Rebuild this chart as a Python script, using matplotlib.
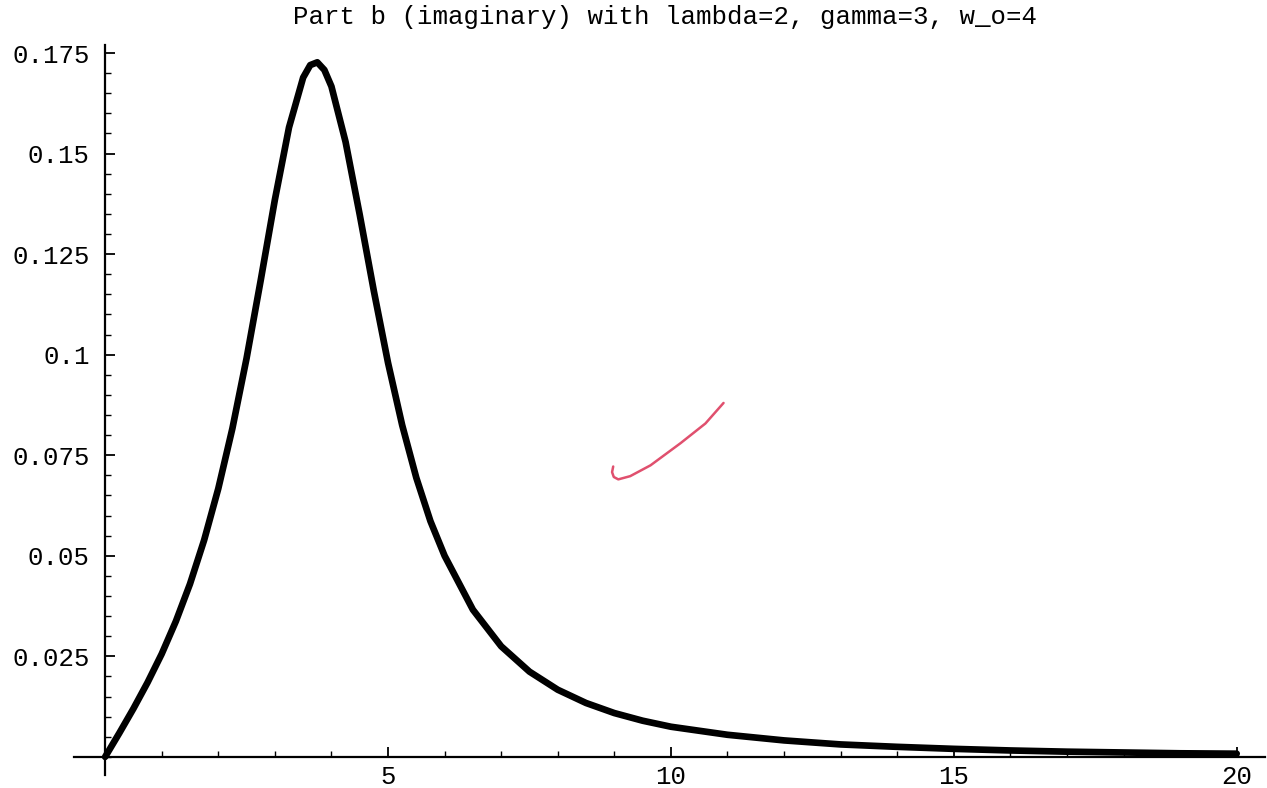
import numpy as np
import matplotlib
matplotlib.use("Agg")
import matplotlib.pyplot as plt
from matplotlib.ticker import FixedLocator, MultipleLocator

# curve (frequency vs. imaginary part)
w = [0, 0.25, 0.5, 0.75, 1, 1.25, 1.5, 1.75, 2, 2.25, 2.5, 2.75, 3, 3.25,
     3.5, 3.625, 3.75, 3.875, 4, 4.25, 4.5, 4.75, 5, 5.25, 5.5, 5.75, 6,
     6.5, 7, 7.5, 8, 8.5, 9, 9.5, 10, 11, 12, 13, 14, 15, 16, 17, 18, 19, 20]
im_part = [0.0, 0.0059, 0.0120, 0.0185, 0.0256, 0.0337, 0.0430, 0.0539,
           0.0667, 0.0817, 0.0991, 0.1185, 0.1385, 0.1565, 0.1689, 0.1720,
           0.1727, 0.1708, 0.1667, 0.1529, 0.1348, 0.1158, 0.0980, 0.0825,
           0.0694, 0.0586, 0.0500, 0.0366, 0.0275, 0.0212, 0.0167, 0.0134,
           0.0109, 0.0090, 0.0075, 0.0055, 0.0041, 0.0031, 0.0025, 0.0020,
           0.0016, 0.0013, 0.0011, 0.0009, 0.0008]

# red pen stroke on the scan
pen_x = [8.98, 8.96, 8.99, 9.07, 9.28, 9.64, 10.17, 10.61, 10.93]
pen_y = [0.0722, 0.0708, 0.0696, 0.0690, 0.0698, 0.0725, 0.0780, 0.0829, 0.0880]

xticks = [5, 10, 15, 20]
yticks = [0.025, 0.05, 0.075, 0.1, 0.125, 0.15, 0.175]
ytick_labels = ["0.025", "0.05", "0.075", "0.1", "0.125", "0.15", "0.175"]

plt.rcParams['font.family'] = ['Liberation Mono', 'DejaVu Sans Mono']

fig = plt.figure(figsize=(12.67, 7.88), dpi=100)
ax = fig.add_axes([74 / 1267, 13 / 788, 1191 / 1267, 730 / 788])

ax.plot(w, im_part, color="black", lw=4.8, solid_capstyle="round",
        solid_joinstyle="round")
ax.plot(pen_x, pen_y, color="#e0506e", lw=1.8, solid_capstyle="round",
        solid_joinstyle="round")

ax.set_xlim(-0.55, 20.5)
ax.set_ylim(-0.0045, 0.177)

for side in ["top", "right"]:
    ax.spines[side].set_visible(False)
ax.spines["left"].set_position(("data", 0))
ax.spines["bottom"].set_position(("data", 0))
ax.spines["left"].set_linewidth(1.6)
ax.spines["bottom"].set_linewidth(1.6)

ax.xaxis.set_major_locator(FixedLocator(xticks))
ax.xaxis.set_minor_locator(MultipleLocator(1))
ax.yaxis.set_major_locator(FixedLocator(yticks))
ax.yaxis.set_minor_locator(MultipleLocator(0.005))
ax.set_xticklabels([str(t) for t in xticks])
ax.set_yticklabels(ytick_labels)

ax.tick_params(which="major", direction="in", length=7, width=1.3,
               labelsize=18.5, color="black")
ax.tick_params(which="minor", direction="in", length=4, width=1.0)
ax.tick_params(axis="y", which="major", pad=11)
ax.tick_params(axis="x", which="major", pad=6)

fig.text(0.525, 1 - 17 / 788, "Part b (imaginary) with lambda=2, gamma=3, w_o=4",
         ha="center", va="center", fontsize=18.5)

fig.savefig("out.png", dpi=100, facecolor="white")
